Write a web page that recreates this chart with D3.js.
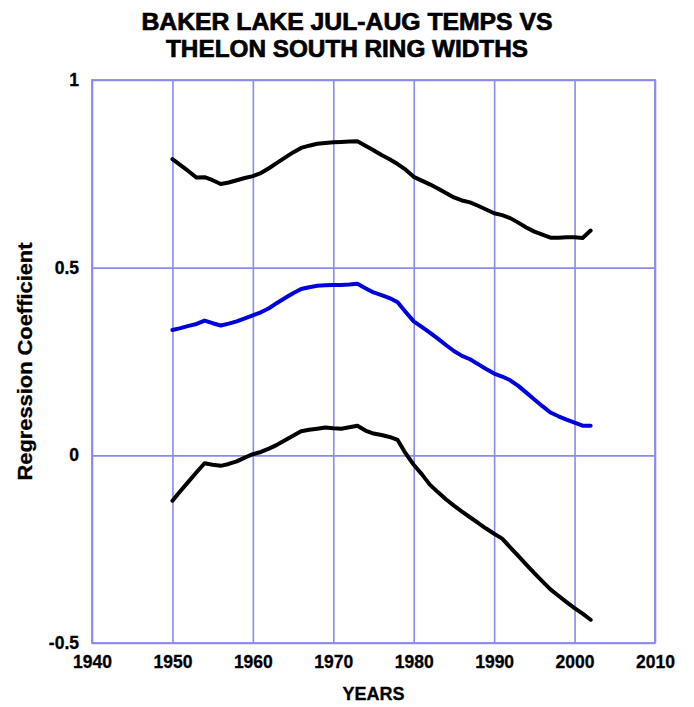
<!DOCTYPE html>
<html>
<head>
<meta charset="utf-8">
<script src="https://cdn.jsdelivr.net/npm/d3@7"></script>
<style>
  html, body { margin: 0; padding: 0; background: #fff; }
  svg { display: block; font-family: "Liberation Sans", Arial, Helvetica, sans-serif; }
</style>
</head>
<body>
<svg id="chart" width="694" height="707"></svg>
<script>
// Running regression coefficients, Baker Lake Jul-Aug temperature vs Thelon South ring widths
const years = d3.range(1950, 2003);

const upperBound = [
  0.789, 0.773, 0.757, 0.740, 0.741, 0.733, 0.723, 0.727, 0.733, 0.739,
  0.744, 0.752, 0.765, 0.779, 0.793, 0.807, 0.819, 0.825, 0.830, 0.832,
  0.834, 0.835, 0.836, 0.837, 0.825, 0.813, 0.800, 0.789, 0.776, 0.761,
  0.742, 0.732, 0.722, 0.711, 0.699, 0.687, 0.679, 0.674, 0.665, 0.655,
  0.645, 0.640, 0.632, 0.620, 0.607, 0.596, 0.588, 0.580, 0.580, 0.581,
  0.581, 0.579, 0.599
];

const coefficient = [
  0.334, 0.339, 0.345, 0.350, 0.359, 0.352, 0.346, 0.351, 0.357, 0.365,
  0.373, 0.381, 0.392, 0.406, 0.419, 0.432, 0.443, 0.448, 0.452, 0.453,
  0.454, 0.454, 0.455, 0.457, 0.445, 0.434, 0.427, 0.419, 0.408, 0.382,
  0.357, 0.342, 0.327, 0.311, 0.294, 0.278, 0.265, 0.256, 0.243, 0.230,
  0.218, 0.210, 0.200, 0.185, 0.167, 0.149, 0.131, 0.114, 0.104, 0.095,
  0.087, 0.079, 0.079
];

const lowerBound = [
  -0.121, -0.095, -0.070, -0.045, -0.021, -0.025, -0.028, -0.023, -0.016, -0.006,
   0.003,  0.009,  0.018,  0.028,  0.040,  0.052,  0.064,  0.068,  0.071,  0.074,
   0.072,  0.071,  0.075,  0.079,  0.066,  0.058,  0.054,  0.049,  0.041,  0.005,
  -0.025, -0.050, -0.078, -0.098, -0.117, -0.134, -0.150, -0.165, -0.180, -0.195,
  -0.209, -0.222, -0.245, -0.268, -0.291, -0.314, -0.336, -0.357, -0.374, -0.391,
  -0.407, -0.422, -0.438
];

const xTicks = [1940, 1950, 1960, 1970, 1980, 1990, 2000, 2010];
const yTicks = [-0.5, 0, 0.5, 1];
const yTickLabels = ["-0.5", "0", "0.5", "1"];

const titleLines = ["BAKER LAKE JUL-AUG TEMPS VS", "THELON SOUTH RING WIDTHS"];
const xTitle = "YEARS";
const yTitle = "Regression Coefficient";

const margin = { left: 92, right: 39, top: 80, bottom: 64 };
const W = 694, H = 707;
const iw = W - margin.left - margin.right;
const ih = H - margin.top - margin.bottom;

const gridColor = "#8a8af2";

const svg = d3.select("#chart");

const x = d3.scaleLinear().domain([1940, 2010]).range([0, iw]);
const y = d3.scaleLinear().domain([-0.5, 1]).range([ih, 0]);

const g = svg.append("g").attr("transform", `translate(${margin.left},${margin.top})`);

// Grid lines through the axes
const xGrid = g.append("g")
  .attr("transform", `translate(0,${ih})`)
  .call(d3.axisBottom(x).tickValues(xTicks).tickSize(-ih).tickFormat(""));
const yGrid = g.append("g")
  .call(d3.axisLeft(y).tickValues(yTicks).tickSize(-iw).tickFormat(""));
[xGrid, yGrid].forEach(a => {
  a.select(".domain").remove();
  a.selectAll(".tick line").attr("stroke", gridColor).attr("stroke-width", 1.6);
});

// Frame
g.append("rect")
  .attr("x", 0).attr("y", 0).attr("width", iw).attr("height", ih)
  .attr("fill", "none").attr("stroke", gridColor).attr("stroke-width", 1.8);

// Tick labels
const xLab = g.append("g")
  .attr("transform", `translate(0,${ih})`)
  .call(d3.axisBottom(x).tickValues(xTicks).tickSize(0).tickPadding(13).tickFormat(d3.format("d")));
const yLab = g.append("g")
  .call(d3.axisLeft(y).tickValues(yTicks).tickSize(0).tickPadding(13)
        .tickFormat((d, i) => yTickLabels[i]));
[xLab, yLab].forEach(a => {
  a.select(".domain").remove();
  a.selectAll("text")
    .attr("font-family", "Liberation Sans, Arial, sans-serif")
    .attr("font-size", 17.5).attr("font-weight", "bold").attr("fill", "#000")
    .attr("stroke", "#000").attr("stroke-width", 0.3);
});

// Data series
const line = d3.line().x((d, i) => x(years[i])).y(d => y(d));
const series = [
  { values: upperBound, color: "#000000" },
  { values: coefficient, color: "#0000dd" },
  { values: lowerBound, color: "#000000" }
];
g.selectAll("path.series")
  .data(series)
  .join("path")
  .attr("class", "series")
  .attr("d", d => line(d.values))
  .attr("fill", "none")
  .attr("stroke", d => d.color)
  .attr("stroke-width", 4)
  .attr("stroke-linejoin", "round")
  .attr("stroke-linecap", "round");

// Titles
const titleWidths = [411, 362];
svg.append("g").selectAll("text")
  .data(titleLines)
  .join("text")
  .attr("x", W / 2)
  .attr("y", (d, i) => 30 + i * 27)
  .attr("text-anchor", "middle")
  .attr("font-size", 24).attr("font-weight", "bold")
  .attr("textLength", (d, i) => titleWidths[i])
  .attr("lengthAdjust", "spacingAndGlyphs")
  .attr("stroke", "#000").attr("stroke-width", 0.7)
  .text(d => d);

svg.append("text")
  .attr("x", margin.left + iw / 2)
  .attr("y", 700)
  .attr("text-anchor", "middle")
  .attr("font-size", 18).attr("font-weight", "bold")
  .attr("stroke", "#000").attr("stroke-width", 0.3)
  .text(xTitle);

svg.append("text")
  .attr("transform", `translate(32,${margin.top + ih / 2}) rotate(-90)`)
  .attr("text-anchor", "middle")
  .attr("font-size", 20.5).attr("font-weight", "bold")
  .attr("textLength", 238)
  .attr("lengthAdjust", "spacingAndGlyphs")
  .attr("stroke", "#000").attr("stroke-width", 0.3)
  .text(yTitle);
</script>
</body>
</html>
